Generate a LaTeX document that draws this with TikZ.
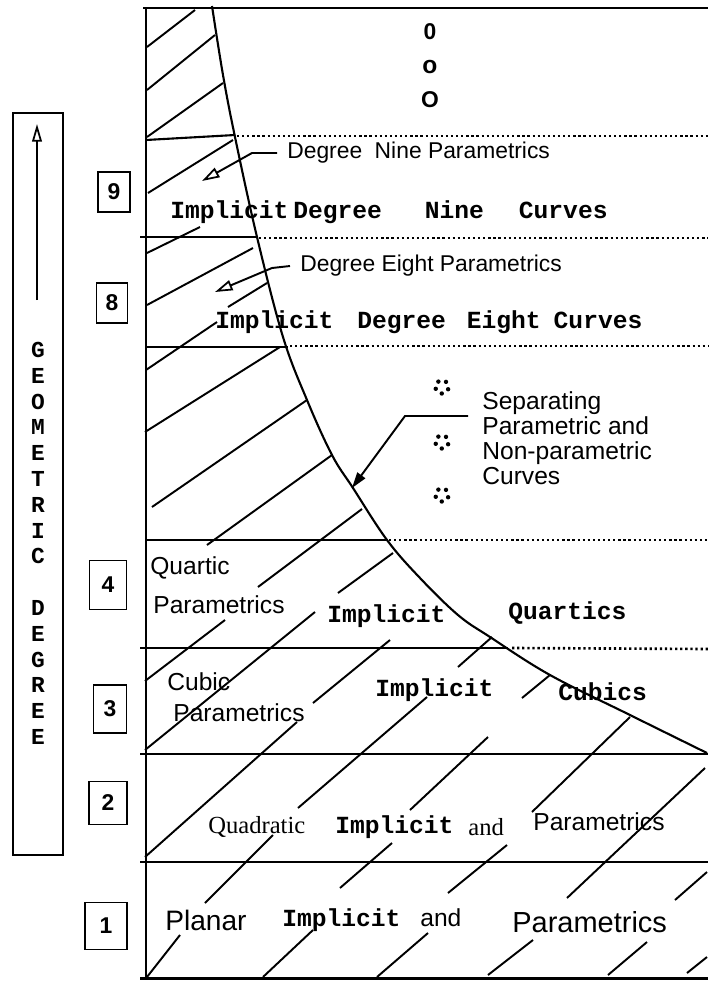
\documentclass[tikz,border=0pt]{standalone}
\usepackage{fontspec}
\setmainfont{Liberation Serif}
\setsansfont{Liberation Sans}
\setmonofont{Liberation Mono}
\usetikzlibrary{arrows.meta}

\begin{document}
\begin{tikzpicture}[x=0.02cm, y=-0.02cm,
    frame/.style={line width=1.7pt},
    rule/.style={line width=1.2pt},
    dotrule/.style={line width=1.5pt, dash pattern=on 1.3pt off 1.6pt},
    hatch/.style={line width=1.1pt},
    helv/.style={font=\sffamily\fontsize{14}{15}\selectfont, inner sep=0pt, anchor=west},
    cour/.style={font=\ttfamily\bfseries\fontsize{14}{15}\selectfont, inner sep=0pt, anchor=west},
    tms/.style={font=\rmfamily\fontsize{14}{15}\selectfont, inner sep=0pt, anchor=west},
    numbox/.style={draw, line width=1pt, inner sep=0pt,
      font=\sffamily\bfseries\fontsize{13}{13}\selectfont},
    vlet/.style={font=\ttfamily\bfseries\fontsize{13}{13}\selectfont, inner sep=0pt},
    openarr/.style={line width=1.1pt, -{Triangle[open, length=10pt, width=6pt, line width=1pt]}},
    solidarr/.style={line width=1.1pt, -{Triangle[length=9pt, width=5.5pt]}}
]
\useasboundingbox (0,0) rectangle (708,981);

% degree axis on the left
\node[draw, line width=1.2pt, minimum width=1cm, minimum height=14.84cm, inner sep=0pt]
  (axisbox) at (38,484) {};
\coordinate (axisfoot) at (37,300);
\coordinate (axishead) at (37,124);
\draw[line width=1pt, -{Triangle[open, length=10pt, width=5.5pt, line width=1pt]}] (axisfoot) -- (axishead);
\foreach \l [count=\i from 0] in {G,E,O,M,E,T,R,I,C,{},D,E,G,R,E,E}
  \node[vlet] (let\i) at (38,350+25.8*\i) {\l};

% degree boxes
\node[numbox, minimum width=0.64cm, minimum height=0.8cm]  (b9) at (114,192) {9};
\node[numbox, minimum width=0.62cm, minimum height=0.8cm]  (b8) at (112,303) {8};
\node[numbox, minimum width=0.74cm, minimum height=0.98cm] (b4) at (108,585) {4};
\node[numbox, minimum width=0.66cm, minimum height=0.96cm] (b3) at (110,709) {3};
\node[numbox, minimum width=0.76cm, minimum height=0.86cm] (b2) at (108,803) {2};
\node[numbox, minimum width=0.84cm, minimum height=0.94cm] (b1) at (106,926) {1};

% hatching
\foreach \a/\b in {
  {(147,47)}/{(195,10)}, {(147,90)}/{(215,35)}, {(147,137)}/{(223,83)},
  {(148,193)}/{(233,140)}, {(147,253)}/{(200,227)}, {(147,305)}/{(253,248)},
  {(228,307)}/{(267,283)}, {(146,370)}/{(217,322)}, {(145,432)}/{(280,347)},
  {(152,507)}/{(307,400)}, {(207,545)}/{(332,455)}, {(258,587)}/{(362,509)},
  {(145,681)}/{(225,620)}, {(145,750)}/{(315,612)}, {(338,593)}/{(393,553)},
  {(145,857)}/{(297,722)}, {(313,703)}/{(390,640)}, {(458,667)}/{(492,637)},
  {(522,698)}/{(550,675)}, {(298,808)}/{(427,697)}, {(410,810)}/{(488,737)},
  {(532,812)}/{(630,717)}, {(567,898)}/{(705,768)}, {(205,903)}/{(273,835)},
  {(340,888)}/{(392,843)}, {(448,893)}/{(507,845)}, {(675,900)}/{(707,872)},
  {(147,977)}/{(180,935)}, {(263,977)}/{(313,930)}, {(377,977)}/{(428,933)},
  {(488,975)}/{(533,940)}, {(608,975)}/{(647,942)}, {(687,973)}/{(707,957)}}
  \draw[hatch] \a -- \b;

% frame
\draw[frame] (143,8) -- (708,8);
\draw[frame] (146,8) -- (146,978);
\draw[frame] (140,978) -- (708,978);

% level rules
\draw[rule] (146,140) -- (235,135);
\draw[rule] (140,237) -- (257,237);
\draw[rule] (146,347) -- (288,347);
\draw[rule] (146,540) -- (387,540);
\draw[rule] (140,648) -- (508,648);
\draw[rule] (140,754) -- (708,754);
\draw[rule] (140,862) -- (708,862);
\draw[dotrule] (237,136) -- (708,136);
\draw[dotrule] (259,238) -- (708,238);
\draw[dotrule] (290,346) -- (708,346);
\draw[dotrule] (389,540) -- (708,540);
\draw[dotrule] (512,648) -- (708,649);

% separating curve
\draw[line width=1.2pt] plot[smooth, tension=0.6] coordinates {
  (212,6) (223,75) (235,137) (257,237) (283,337) (307,400) (332,455)
  (353,488) (387,540) (420,578) (458,615) (490,637) (550,675) (630,715) (707,753)};

% ellipsis at the top
\node[font=\sffamily\bfseries\fontsize{13}{13}\selectfont, inner sep=0pt] (dot1) at (430,32) {0};
\node[font=\sffamily\bfseries\fontsize{14}{14}\selectfont, inner sep=0pt] (dot2) at (430,67) {o};
\node[font=\sffamily\bfseries\fontsize{13}{13}\selectfont, inner sep=0pt] (dot3) at (430,100) {O};

% degree nine
\node[helv, font=\sffamily\fontsize{13}{13}\selectfont] (nineparam) at (287,153)
  {Degree\hspace{0.25cm}Nine Parametrics};
\coordinate (ninetip) at (202,181);
\draw[openarr] ([xshift=-0.2cm]nineparam.west) -- ++(-25,0) -- (ninetip);
\node[cour] (ninecurv) at (170,212)
  {Implicit\hspace{0.1cm}Degree\hspace{0.86cm}Nine\hspace{0.7cm}Curves};

% degree eight
\node[helv, font=\sffamily\fontsize{13}{13}\selectfont] (eightparam) at (300,266)
  {Degree Eight Parametrics};
\coordinate (eighttip) at (215,292);
\draw[openarr] ([xshift=-0.2cm]eightparam.west) -- ++(-18,2) -- (eighttip);
\node[cour] (eightcurv) at (215,322)
  {Implicit\hspace{0.48cm}Degree\hspace{0.42cm}Eight\hspace{0.26cm}Curves};

% separating note
\foreach \y [count=\i] in {387,442,495}
  \foreach \a in {0,72,...,288}
    \fill (442,\y) ++(\a+20:6.5) circle (2.2);
\node[helv, anchor=north west, align=left, font=\sffamily\fontsize{14}{14.2}\selectfont]
  (sepnote) at (482,391) {Separating\\Parametric and\\Non-parametric\\Curves};
\coordinate (sepfoot) at (468,416);
\coordinate (septip) at (352,488);
\draw[solidarr] (sepfoot) -- ++(-63,0) -- (septip);

% quartics
\node[helv] (quartic) at (150,568) {Quartic};
\node[helv] (quarpar) at (153,605) {Parametrics};
\node[cour] (quarimp) at (327,616) {Implicit};
\node[cour] (quarcur) at (508,613) {Quartics};

% cubics
\node[helv] (cubic) at (167,682) {Cubic};
\node[helv] (cubpar) at (173,713) {Parametrics};
\node[cour] (cubimp) at (375,690) {Implicit};
\node[cour] (cubcur) at (558,692) {Cubics};

% quadratics
\node[tms] (quadr) at (208,827) {Quadratic};
\node[cour] (quadimp) at (335,827) {Implicit};
\node[tms] (quadand) at (468,827) {and};
\node[helv] (quadpar) at (533,822) {Parametrics};

% planar
\node[helv, font=\sffamily\fontsize{16}{16}\selectfont] (planar) at (165,920) {Planar};
\node[cour] (planimp) at (282,920) {Implicit};
\node[helv] (planand) at (420,918) {and};
\node[helv, font=\sffamily\fontsize{16.5}{16.5}\selectfont] (planpar) at (512,922) {Parametrics};
\end{tikzpicture}
\end{document}
